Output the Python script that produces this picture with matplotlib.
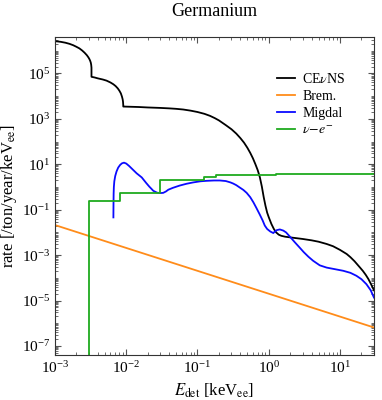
import numpy as np
import matplotlib
matplotlib.use("Agg")
import matplotlib.pyplot as plt
from matplotlib.ticker import LogLocator, NullFormatter

# ---- data ----
cevns_E = [1e-3, 1.2e-3, 1.4e-3, 1.6e-3, 1.8e-3, 2.0e-3, 2.2e-3, 2.4e-3, 2.6e-3, 2.8e-3, 2.95e-3,
           3.05e-3, 3.12e-3, 3.18e-3, 3.22e-3, 3.25e-3, 3.251e-3,
           3.6e-3, 4.0e-3, 4.7e-3, 5.3e-3, 6.0e-3, 6.6e-3, 7.1e-3, 7.6e-3, 8.0e-3, 8.4e-3, 8.7e-3,
           8.9e-3, 9.0e-3, 9.06e-3, 9.08e-3, 9.081e-3,
           0.015, 0.02, 0.03, 0.04, 0.05, 0.063, 0.08, 0.1, 0.125, 0.15, 0.175, 0.2, 0.25, 0.3, 0.35,
           0.4, 0.45, 0.5, 0.55, 0.6, 0.65, 0.7, 0.75, 0.8, 0.85, 0.9, 0.95, 1.0, 1.09, 1.18, 1.27,
           1.38, 1.5, 1.7, 2.0, 3.0, 4.0, 5.0, 6.5, 8.0, 10.0, 12.4, 14.0, 16.0, 19.0, 21.0, 23.0,
           25.0, 27.0, 30.0]
cevns_logR = [6.42, 6.39, 6.35, 6.3, 6.24, 6.17, 6.1, 6.01, 5.91, 5.8, 5.7,
              5.62, 5.55, 5.47, 5.38, 5.25, 4.85,
              4.82, 4.78, 4.73, 4.68, 4.6, 4.52, 4.44, 4.34, 4.24, 4.12, 3.98,
              3.86, 3.76, 3.64, 3.56, 3.54,
              3.52, 3.5, 3.48, 3.46, 3.44, 3.41, 3.36, 3.3, 3.22, 3.13, 3.03, 2.93, 2.72, 2.54, 2.35,
              2.15, 1.95, 1.73, 1.5, 1.26, 1.0, 0.74, 0.43, 0.02, -0.45, -0.83, -1.13, -1.33, -1.63,
              -1.85, -2.0, -2.1, -2.15, -2.19, -2.22, -2.29, -2.35, -2.41, -2.51, -2.61, -2.77, -2.95,
              -3.09, -3.27, -3.54, -3.7, -3.87, -4.05, -4.25, -4.55]

migdal_E = [6.6e-3, 6.62e-3, 6.65e-3, 6.7e-3, 6.8e-3, 7.0e-3, 7.3e-3, 7.7e-3, 8.2e-3, 8.7e-3, 9.3e-3,
            0.01, 0.011, 0.0125, 0.014, 0.0165, 0.019, 0.021, 0.024, 0.027, 0.0296, 0.033, 0.036,
            0.039, 0.045, 0.056, 0.07, 0.087, 0.11, 0.134, 0.17, 0.206, 0.25, 0.29, 0.317, 0.35, 0.39,
            0.44, 0.49, 0.55, 0.61, 0.67, 0.75, 0.82, 0.88, 0.95, 1.05, 1.16, 1.22, 1.3, 1.43, 1.6,
            1.75, 2.0, 2.3, 2.7, 3.1, 3.6, 4.2, 5.2, 6.5, 8.5, 11.1, 14.0, 17.0, 20.0, 23.5, 27.0, 30.0]
migdal_logR = [-1.34, -0.8, -0.3, 0.0, 0.25, 0.48, 0.68, 0.85, 0.97, 1.04, 1.07,
               1.03, 0.92, 0.75, 0.6, 0.42, 0.18, 0.02, -0.17, -0.25, -0.27, -0.26, -0.2,
               -0.12, -0.04, 0.06, 0.14, 0.2, 0.25, 0.27, 0.285, 0.285, 0.26, 0.2, 0.15, 0.08, -0.02,
               -0.13, -0.26, -0.45, -0.68, -0.92, -1.22, -1.47, -1.7, -1.85, -1.96, -2.03, -1.96, -1.9,
               -1.87, -1.92, -2.0, -2.2, -2.42, -2.66, -2.87, -3.07, -3.25, -3.45, -3.55, -3.62, -3.69,
               -3.78, -3.91, -4.06, -4.28, -4.55, -4.87]

nue_E = [3.0e-3, 3.0e-3, 8.2e-3, 0.030, 0.123, 0.181, 1.28, 30.0]
nue_R = [1e-12, 0.25, 0.52, 2.0, 2.7, 3.2, 3.8, 3.8]

brem_E = [1e-3, 30.0]
brem_R = [2.1e-2, 6.5e-7]

labels = ["CE$\\nu$NS", "Brem.", "Migdal", "$\\nu\\!-\\!e^{-}$"]
title = "Germanium"
xlabel = "$E_{\\rm det}$ [keV$_{\\rm ee}$]"
ylabel = "rate [/ton/year/keV$_{\\rm ee}$]"

# ---- plot ----
plt.rcParams['font.family'] = ['Liberation Serif', 'DejaVu Serif']
plt.rcParams['mathtext.fontset'] = 'stix'

fig = plt.figure(figsize=(3.82, 4.0), dpi=100)
ax = fig.add_axes([0.144, 0.1125, 0.835, 0.795])

lw = 1.3
ax.plot(cevns_E, 10**np.array(cevns_logR), color='black', lw=lw, label=labels[0])
ax.plot(brem_E, brem_R, color='#ff8c1a', lw=lw, label=labels[1])
ax.plot(migdal_E, 10**np.array(migdal_logR), color='#0a0aff', lw=lw, label=labels[2])
ax.plot(nue_E, nue_R, color='#1faa1f', lw=lw, drawstyle='steps-post', label=labels[3])

ax.set_xscale('log')
ax.set_yscale('log')
ax.set_xlim(1e-3, 30)
ax.set_ylim(4e-8, 4e6)

ax.xaxis.set_major_locator(LogLocator(base=10, numticks=20))
ax.xaxis.set_minor_locator(LogLocator(base=10, subs=np.arange(2, 10), numticks=50))
ax.set_yticks([1e-7, 1e-5, 1e-3, 1e-1, 1e1, 1e3, 1e5])
ax.yaxis.set_minor_locator(LogLocator(base=10, subs=np.arange(1, 10), numticks=50))
ax.yaxis.set_minor_formatter(NullFormatter())
ax.xaxis.set_minor_formatter(NullFormatter())

ax.tick_params(which='both', direction='in', top=True, right=True, labelsize=11, color='#555555')
ax.tick_params(which='major', length=4, width=0.8)
ax.tick_params(which='minor', length=2, width=0.6)
for s in ax.spines.values():
    s.set_color('#333333')
    s.set_linewidth(0.8)

ax.set_title(title, fontsize=13, pad=15)
ax.set_xlabel(xlabel, fontsize=12, labelpad=4)
ax.set_ylabel(ylabel, fontsize=12)
ax.yaxis.set_label_coords(-0.113, 0.5)

leg = ax.legend(loc='upper right', bbox_to_anchor=(0.95, 0.93), frameon=False, fontsize=10,
                handlelength=1.3, handletextpad=0.5, labelspacing=0.3)

fig.savefig('out.png', dpi=100)
